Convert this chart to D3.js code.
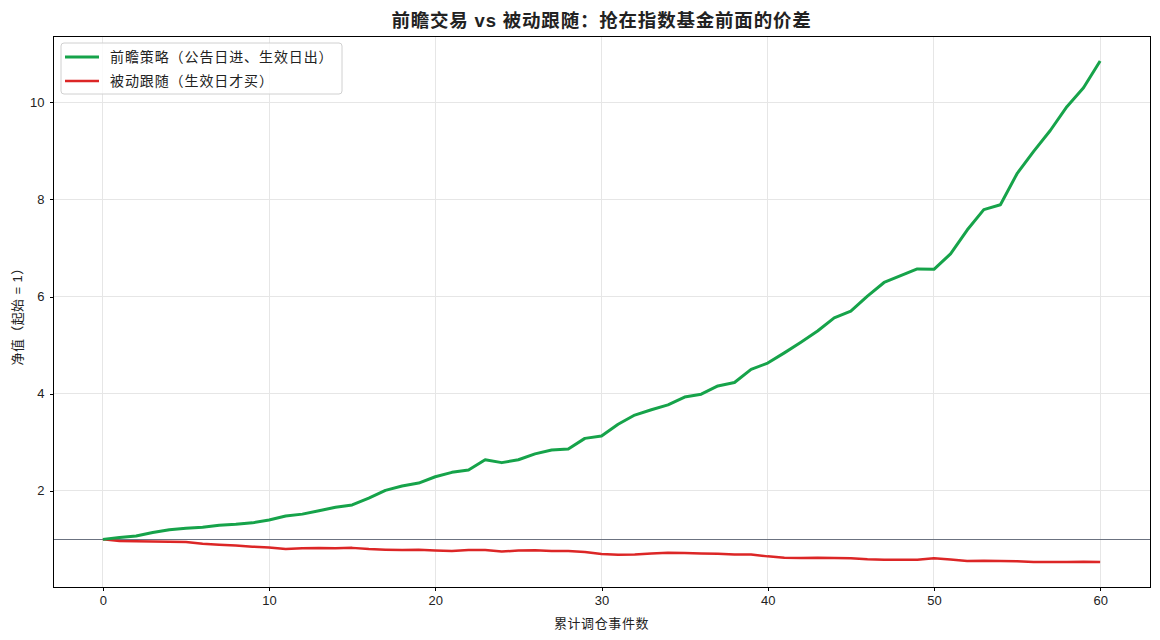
<!DOCTYPE html>
<html lang="zh">
<head>
<meta charset="utf-8">
<title>前瞻交易 vs 被动跟随</title>
<script src="https://cdn.jsdelivr.net/npm/d3@7/dist/d3.min.js"></script>
<style>
  body { margin: 0; background: #fff; }
  text { font-family: "Liberation Sans", "Noto Sans CJK SC", sans-serif; fill: #222; }
  .axis path, .axis line { stroke: #000; shape-rendering: crispEdges; }
  .axis text { font-size: 13px; }
  .grid line { stroke: #e6e6e6; shape-rendering: crispEdges; }
</style>
</head>
<body>
<div id="chart"></div>
<script>
// event index 0..60
var events = d3.range(0, 61);

var frontRun = [1.00,1.04,1.07,1.14,1.20,1.23,1.25,1.29,1.31,1.34,
                1.40,1.48,1.52,1.59,1.66,1.71,1.85,2.01,2.10,2.16,
                2.29,2.38,2.43,2.64,2.58,2.64,2.76,2.84,2.86,3.08,
                3.13,3.37,3.56,3.67,3.77,3.93,3.99,4.16,4.23,4.50,
                4.63,4.84,5.06,5.29,5.56,5.70,6.01,6.29,6.43,6.57,
                6.56,6.88,7.37,7.79,7.89,8.53,8.99,9.42,9.91,10.30,10.85];

var passive = [1.00,0.965,0.96,0.955,0.95,0.945,0.91,0.89,0.875,0.85,
               0.835,0.80,0.815,0.82,0.815,0.825,0.80,0.787,0.78,0.785,
               0.77,0.76,0.78,0.78,0.75,0.77,0.775,0.76,0.76,0.74,
               0.70,0.685,0.69,0.71,0.725,0.72,0.71,0.705,0.69,0.69,
               0.65,0.62,0.615,0.62,0.615,0.61,0.59,0.578,0.58,0.58,
               0.61,0.585,0.555,0.56,0.555,0.55,0.535,0.535,0.535,0.54,0.535];

var seriesNames = ["前瞻策略（公告日进、生效日出）", "被动跟随（生效日才买）"];
var seriesColors = ["#16a34a", "#dc2626"];
var xTicks = [0, 10, 20, 30, 40, 50, 60];
var yTicks = [2, 4, 6, 8, 10];

var W = 1160, H = 640;
var margin = {top: 36, right: 10, bottom: 53, left: 53};
var w = W - margin.left - margin.right,
    h = H - margin.top - margin.bottom;

var svg = d3.select("#chart").append("svg")
    .attr("width", W).attr("height", H);

var g = svg.append("g")
    .attr("transform", "translate(" + margin.left + "," + margin.top + ")");

var x = d3.scaleLinear().domain([-3, 63]).range([0, w]);
var yMin = d3.min(passive), yMax = d3.max(frontRun);
var pad = (yMax - yMin) * 0.05;
var y = d3.scaleLinear().domain([yMin - pad, yMax + pad]).range([h, 0]);

// grid
var grid = g.append("g").attr("class", "grid");
grid.selectAll(".gx").data(xTicks).enter().append("line")
    .attr("x1", function(d){ return x(d); }).attr("x2", function(d){ return x(d); })
    .attr("y1", 0).attr("y2", h);
grid.selectAll(".gy").data(yTicks).enter().append("line")
    .attr("x1", 0).attr("x2", w)
    .attr("y1", function(d){ return y(d); }).attr("y2", function(d){ return y(d); });

// baseline at 1
g.append("line")
    .attr("x1", 0).attr("x2", w)
    .attr("y1", y(1)).attr("y2", y(1))
    .attr("stroke", "#6b7280").attr("stroke-width", 1)
    .style("shape-rendering", "crispEdges");

// lines
var line = d3.line()
    .x(function(d, i){ return x(events[i]); })
    .y(function(d){ return y(d); });

[passive, frontRun].forEach(function(s) {
  var idx = s === frontRun ? 0 : 1;
  g.append("path")
    .datum(s)
    .attr("fill", "none")
    .attr("stroke", seriesColors[idx])
    .attr("stroke-width", idx === 0 ? 3 : 2.5)
    .attr("stroke-linejoin", "round")
    .attr("d", line);
});

// axes
g.append("g").attr("class", "axis")
    .attr("transform", "translate(0," + h + ")")
    .call(d3.axisBottom(x).tickValues(xTicks).tickSize(3.5).tickPadding(5))
    .call(function(a){ a.select(".domain").remove(); });
g.append("g").attr("class", "axis")
    .call(d3.axisLeft(y).tickValues(yTicks).tickSize(3.5).tickPadding(5))
    .call(function(a){ a.select(".domain").remove(); });

// frame
g.append("rect")
    .attr("width", w).attr("height", h)
    .attr("fill", "none").attr("stroke", "#000").attr("stroke-width", 1)
    .style("shape-rendering", "crispEdges");

// title and labels
svg.append("text")
    .attr("x", margin.left + w / 2).attr("y", 27)
    .attr("text-anchor", "middle")
    .style("font-size", "18.5px").style("font-weight", "bold")
    .style("letter-spacing", "0.8px")
    .text("前瞻交易 vs 被动跟随：抢在指数基金前面的价差");

svg.append("text")
    .attr("x", margin.left + w / 2).attr("y", 628)
    .attr("text-anchor", "middle")
    .style("font-size", "13px").style("letter-spacing", "0.6px")
    .text("累计调仓事件数");

svg.append("text")
    .attr("transform", "translate(22," + (margin.top + h / 2 + 2) + ") rotate(-90)")
    .attr("text-anchor", "middle")
    .style("font-size", "13px").style("letter-spacing", "0.4px")
    .text("净值（起始 = 1）");

// legend
var legend = g.append("g").attr("transform", "translate(8,7)");
legend.append("rect")
    .attr("width", 281).attr("height", 51).attr("rx", 3)
    .attr("fill", "#fff").attr("fill-opacity", 0.8)
    .attr("stroke", "#d0d0d0");
var items = legend.selectAll(".item").data(seriesNames).enter().append("g")
    .attr("transform", function(d, i){ return "translate(0," + (14 + i * 24) + ")"; });
items.append("line")
    .attr("x1", 4).attr("x2", 38)
    .attr("stroke", function(d, i){ return seriesColors[i]; })
    .attr("stroke-width", function(d, i){ return i === 0 ? 3 : 2.5; });
items.append("text")
    .attr("x", 49).attr("dy", "0.35em")
    .style("font-size", "14px").style("letter-spacing", "0.9px")
    .text(function(d){ return d; });
</script>
</body>
</html>
